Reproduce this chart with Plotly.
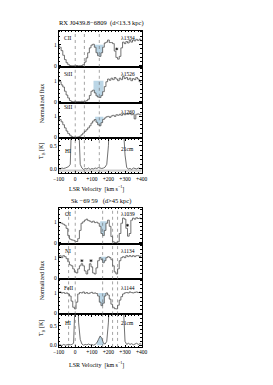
import plotly.graph_objects as go

W, H = 273, 385

# ---------------- data ----------------
velocity = list(range(-100, 401, 10))

# RX J0439.8-6809
flux_cii_1334 = [0.95, 0.88, 0.72, 0.5, 0.3, 0.15, 0.06, 0.02, 0.0, 0.01,
                 0.0, 0.02, 0.0, 0.01, 0.02, 0.06, 0.18, 0.38, 0.62, 0.85,
                 0.98, 1.02, 0.88, 0.62, 0.48, 0.45, 0.62, 0.88, 1.08, 1.12,
                 1.22, 1.1, 1.1, 1.05, 0.7, 0.4, 0.32, 0.45, 0.85, 1.12,
                 1.05, 1.15, 1.08, 1.2, 1.12, 1.22, 1.18, 1.25, 1.2, 1.26, 1.18]
flux_siii_1526 = [1.05, 0.95, 0.8, 0.7, 0.5, 0.32, 0.18, 0.06, 0.01, 0.0,
                  0.02, 0.0, 0.01, 0.0, 0.02, 0.01, 0.02, 0.05, 0.12, 0.3,
                  0.5, 0.55, 0.42, 0.28, 0.22, 0.2, 0.3, 0.48, 0.72, 0.95,
                  1.08, 1.02, 1.12, 1.05, 1.15, 1.08, 1.0, 1.12, 1.05, 1.2,
                  1.1, 1.15, 1.05, 1.12, 1.0, 1.1, 1.05, 1.15, 1.08, 0.95, 0.9]
flux_siii_1260 = [0.98, 0.85, 0.74, 0.6, 0.45, 0.3, 0.18, 0.1, 0.03, 0.0,
                  0.01, 0.0, 0.02, 0.05, 0.12, 0.2, 0.28, 0.36, 0.45, 0.55,
                  0.68, 0.78, 0.85, 0.72, 0.6, 0.55, 0.7, 0.85, 0.92, 0.98,
                  1.0, 0.95, 1.02, 1.05, 1.0, 1.08, 1.05, 1.1, 1.05, 1.12,
                  1.08, 1.12, 1.1, 1.15, 1.08, 1.1, 0.88, 1.1, 1.12, 1.08, 1.1]
tb_hi_rx = [0.01, 0.0, 0.02, 0.01, 0.02, 0.03, 0.05, 0.1, 1.5, 2.5,
            3.0, 2.0, 0.8, 0.1, 0.02, -0.01, 0.01, 0.0, 0.02, -0.01,
            0.01, 0.0, 0.02, 0.01, 0.03, 0.02, 0.01, 0.02, 0.04, 0.1,
            0.5, 1.5, 3.0, 4.0, 5.0, 4.0, 3.0, 2.0, 1.5, 1.0,
            0.3, 0.03, 0.0, 0.01, -0.01, 0.02, 0.01, 0.0, 0.02, 0.01, 0.0]

# Sk -69 59
flux_oi_1039 = [1.0, 0.97, 0.95, 0.9, 0.85, 0.7, 0.35, 0.18, 0.14, 0.12,
                0.08, 0.06, 0.2, 0.6, 0.95, 1.02, 1.1, 1.15, 1.08, 1.05,
                1.0, 1.05, 0.98, 1.0, 0.95, 0.8, 0.45, 0.35, 0.6, 0.95,
                1.1, 0.8, 0.3, 0.05, 0.0, 0.02, 0.05, 0.45, 0.95, 1.2,
                1.15, 0.7, 0.32, 0.45, 1.1, 1.2, 1.15, 1.22, 1.18, 1.2, 1.15]
flux_ni_1134 = [1.0, 1.1, 1.0, 1.1, 1.05, 0.95, 0.8, 0.65, 0.6, 0.45,
                0.3, 0.25, 0.45, 0.6, 0.7, 0.6, 0.35, 0.2, 0.4, 0.7,
                0.55, 0.25, 0.2, 0.5, 0.85, 1.0, 0.9, 0.75, 0.85, 1.0,
                1.05, 1.0, 0.9, 0.6, 0.3, 0.2, 0.45, 0.85, 1.0, 1.05,
                1.0, 1.1, 1.05, 1.1, 1.05, 1.1, 1.05, 1.1, 1.1, 1.05, 1.1]
flux_feii_1144 = [1.02, 1.05, 1.0, 1.02, 0.98, 1.0, 0.95, 0.85, 0.6, 0.3,
                  0.22, 0.55, 0.95, 1.02, 1.0, 1.05, 0.98, 1.02, 0.97, 1.0,
                  1.03, 0.98, 1.0, 0.97, 0.85, 0.55, 0.38, 0.5, 0.85, 1.0,
                  0.9, 0.7, 0.45, 0.3, 0.23, 0.22, 0.4, 0.65, 0.82, 0.95,
                  1.0, 1.02, 1.0, 1.05, 1.02, 1.0, 1.03, 1.05, 1.02, 1.04, 1.0]
tb_hi_sk = [0.0, 0.01, -0.01, 0.02, 0.0, 0.01, 0.02, 0.01, 0.02, 0.05,
            1.5, 2.5, 0.6, 0.15, 0.03, 0.0, 0.02, 0.01, 0.03, 0.01,
            0.02, 0.0, 0.02, 0.06, 0.15, 0.24, 0.18, 0.05, 0.03, 0.1,
            0.6, 1.5, 3.0, 4.0, 5.0, 4.5, 3.5, 2.5, 1.5, 1.0,
            0.1, 0.02, 0.05, 0.02, 0.04, 0.01, 0.03, 0.05, 0.02, 0.04, 0.03]

ion_labels = ["CII", "SiII", "SiII", "HI", "OI", "NI", "FeII", "HI"]
line_labels = ["λ1334", "λ1526", "λ1260", "21cm", "λ1039", "λ1134", "λ1144", "21cm"]
titles = ["RX J0439.8−6809  (d<13.3 kpc)", "Sk −69 59   (d>45 kpc)"]
xtick_vals = [-100, 0, 100, 200, 300, 400]
xtick_text = ["−100", "0", "+100", "+200", "+300", "+400"]

# shaded (blue) velocity windows and reference level for each panel
shade_ranges = [(110, 170), (110, 170), (120, 170), None,
                (150, 190), (150, 190), (140, 190), (130, 170)]
shade_levels = [1.0, 1.0, 0.98, None, 1.05, 1.05, 1.0, 0.0]
marker_v = [[250], [], [], [], [315], [40, 95], [], []]
marker_y = [[0.8], [], [], [], [0.85], [0.85, 0.85], [], []]
dotted_top = [0, 55, 145]
dotted_bot = [-40, 0, 165, 225, 255]

series = [flux_cii_1334, flux_siii_1526, flux_siii_1260, tb_hi_rx,
          flux_oi_1039, flux_ni_1134, flux_feii_1144, tb_hi_sk]

# ---------------- layout geometry (pixels) ----------------
XL, XR = 46.7, 133.5
panel_px = [(23, 59.3), (59.3, 95.3), (95.3, 131), (131, 166),
            (201.3, 237), (237, 272.5), (272.5, 308), (308, 340.7)]
yranges = [(-0.05, 1.65)] * 3 + [(-0.09, 0.66)] + [(-0.05, 1.68)] * 3 + [(-0.045, 0.8)]


def pxx(x):
    return x / W


def pxy(y):
    return 1 - y / H


FONT = "Liberation Serif"
LINE = "#4d4d4d"
BLUE = "rgba(175,207,226,0.85)"

fig = go.Figure()
layout = dict(width=W, height=H, autosize=False,
              margin=dict(l=0, r=0, t=0, b=0),
              paper_bgcolor="white", plot_bgcolor="white",
              showlegend=False, font=dict(family=FONT, size=6, color="black"))
shapes = []
annotations = []

for i in range(8):
    n = i + 1
    xa = "x" if n == 1 else f"x{n}"
    ya = "y" if n == 1 else f"y{n}"
    top, bot = panel_px[i]
    is_hi = i in (3, 7)
    ys = series[i]

    # shaded region
    if shade_ranges[i] is not None:
        a, b = shade_ranges[i]
        vs = [v for v in velocity if a <= v <= b]
        fs = [f for v, f in zip(velocity, ys) if a <= v <= b]
        fig.add_trace(go.Scatter(x=vs, y=[shade_levels[i]] * len(vs), xaxis=xa, yaxis=ya,
                                 mode="lines", line=dict(width=0, shape="hvh"),
                                 hoverinfo="skip"))
        fig.add_trace(go.Scatter(x=vs, y=fs, xaxis=xa, yaxis=ya, mode="lines",
                                 line=dict(width=0, shape="linear" if is_hi else "hvh"),
                                 fill="tonexty", fillcolor=BLUE, hoverinfo="skip"))

    fig.add_trace(go.Scatter(x=velocity, y=ys, xaxis=xa, yaxis=ya, mode="lines",
                             line=dict(color=LINE, width=0.8,
                                       shape="linear" if is_hi else "hvh"),
                             cliponaxis=True))
    if marker_v[i]:
        fig.add_trace(go.Scatter(x=marker_v[i], y=marker_y[i], xaxis=xa, yaxis=ya,
                                 mode="markers",
                                 marker=dict(symbol="asterisk-open", size=2.5, color="black",
                                             line=dict(color="black", width=0.6))))

    bottom_of_group = i in (3, 7)
    layout[("xaxis" if n == 1 else f"xaxis{n}")] = dict(
        domain=[pxx(XL), pxx(XR)], anchor=ya, range=[-100, 400],
        showline=True, linecolor="black", linewidth=0.8, mirror="ticks",
        ticks="inside", ticklen=2.5, tickwidth=0.6, tickcolor="black",
        tickvals=xtick_vals, ticktext=xtick_text if bottom_of_group else [""] * 6,
        showticklabels=bottom_of_group, tickfont=dict(size=5.5, family=FONT),
        minor=dict(dtick=20, ticks="inside", ticklen=1.3, tickwidth=0.5, tickcolor="black"),
        showgrid=False, zeroline=False, fixedrange=True)
    if is_hi:
        tv, tt = [0.0, 0.5], ["0.0", "0.5"]
        mdt = 0.1
    else:
        tv, tt = [0, 1], ["0", "1"]
        mdt = 0.2
    layout[("yaxis" if n == 1 else f"yaxis{n}")] = dict(
        domain=[pxy(bot), pxy(top)], anchor=xa, range=list(yranges[i]),
        showline=True, linecolor="black", linewidth=0.8, mirror="ticks",
        ticks="inside", ticklen=2.5, tickwidth=0.6, tickcolor="black",
        tickvals=tv, ticktext=tt, tickfont=dict(size=5.5, family=FONT),
        minor=dict(dtick=mdt, ticks="inside", ticklen=1.3, tickwidth=0.5, tickcolor="black"),
        showgrid=False, zeroline=False, fixedrange=True)

    # dotted velocity markers
    for v in (dotted_top if i < 4 else dotted_bot):
        shapes.append(dict(type="line", xref=xa, yref=f"{ya} domain", x0=v, x1=v,
                           y0=0, y1=1, line=dict(color="#666", width=0.6, dash="dot")))

    # labels
    lab_y = [30, 66, 100, 144, 207, 244, 281, 317][i]
    lab2_y = [30, 66, 105, 142, 207, 244, 281, 317][i]
    annotations.append(dict(text=ion_labels[i], x=pxx(57), y=pxy(lab_y), xref="paper",
                            yref="paper", showarrow=False, font=dict(size=5.5, family=FONT),
                            xanchor="center", yanchor="middle"))
    annotations.append(dict(text=line_labels[i], x=pxx(119), y=pxy(lab2_y), xref="paper",
                            yref="paper", showarrow=False, font=dict(size=5.5, family=FONT),
                            xanchor="center", yanchor="middle"))

# gray band in top HI panel
shapes.append(dict(type="line", xref="x4", yref="y4", x0=-100, x1=400, y0=-0.035, y1=-0.035,
                   line=dict(color="#cccccc", width=2.2), layer="below"))

# titles and axis titles
for k, (ty, xt_y, nf_y, tb_y) in enumerate([(15.5, 181, 96, 144), (193.7, 358, 274, 322)]):
    annotations.append(dict(text=titles[k], x=pxx(91), y=pxy(ty), xref="paper", yref="paper",
                            showarrow=False, font=dict(size=6.5, family=FONT),
                            xanchor="center", yanchor="middle"))
    annotations.append(dict(text="LSR Velocity  [km s<sup>−1</sup>]", x=pxx(86), y=pxy(xt_y),
                            xref="paper", yref="paper", showarrow=False,
                            font=dict(size=6, family=FONT), xanchor="center", yanchor="middle"))
    annotations.append(dict(text="Normalized flux", x=pxx(29), y=pxy(nf_y), xref="paper",
                            yref="paper", showarrow=False, textangle=-90,
                            font=dict(size=6, family=FONT), xanchor="center", yanchor="middle"))
    annotations.append(dict(text="T<sub>B</sub> [K]", x=pxx(29), y=pxy(tb_y), xref="paper",
                            yref="paper", showarrow=False, textangle=-90,
                            font=dict(size=6, family=FONT), xanchor="center", yanchor="middle"))

layout["shapes"] = shapes
layout["annotations"] = annotations
fig.update_layout(**layout)
fig.write_html("out.html")
